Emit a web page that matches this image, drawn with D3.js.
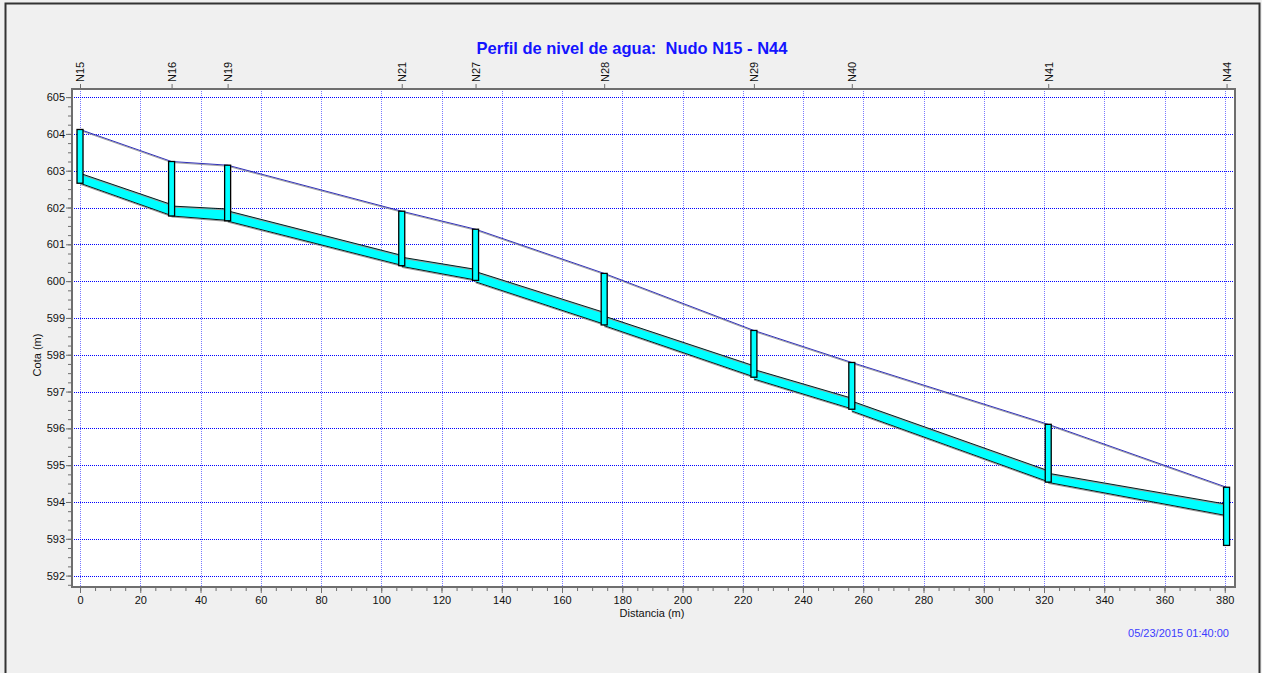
<!DOCTYPE html>
<html>
<head>
<meta charset="utf-8">
<script src="https://cdn.jsdelivr.net/npm/d3@7"></script>
<style>
  html, body { margin: 0; padding: 0; background: #f0f0f0; }
  svg { display: block; font-family: "Liberation Sans", Arial, sans-serif; }
</style>
</head>
<body>
<div id="chart"></div>
<script>
// nodes along the profile
var nodeNames = ["N15", "N16", "N19", "N21", "N27", "N28", "N29", "N40", "N41", "N44"];
var nodeDist = [0, 30.4, 49.0, 106.8, 131.3, 174.0, 223.7, 256.2, 321.4, 380.6];
var nodeInvert = [602.66, 601.77, 601.64, 600.42, 600.02, 598.81, 597.39, 596.52, 594.54, 592.82];
var nodeTop = [604.12, 603.25, 603.15, 601.90, 601.41, 600.21, 598.66, 597.79, 596.11, 594.40];

// conduits between consecutive nodes (upstream / downstream)
var upInvert = [602.66, 601.77, 601.63, 600.40, 599.98, 598.79, 597.34, 596.47, 594.53];
var dnInvert = [601.78, 601.65, 600.43, 600.03, 598.83, 597.40, 596.53, 594.55, 593.63];
var upCrown = [602.93, 602.04, 601.91, 600.65, 600.26, 599.05, 597.60, 596.74, 594.78];
var dnCrown = [602.08, 601.96, 600.70, 600.32, 599.15, 597.70, 596.82, 594.85, 593.94];

var xTicks = d3.range(0, 381, 20);
var yTicks = d3.range(592, 606, 1);

var W = 1262, H = 673;
var pLeft = 72, pRight = 1235, pTop = 89, pBottom = 587;

var svg = d3.select("#chart").append("svg")
  .attr("width", W)
  .attr("height", H);

// window frame
svg.append("rect")
  .attr("x", 5.5).attr("y", 3.5)
  .attr("width", 1254).attr("height", 690)
  .attr("fill", "#f0f0f0")
  .attr("stroke", "#333").attr("stroke-width", 2);

var x = d3.scaleLinear().domain([-2.66, 383.4]).range([pLeft, pRight]);
var y = d3.scaleLinear().domain([591.69, 605.22]).range([pBottom, pTop]);

// plot area
svg.append("rect")
  .attr("x", pLeft).attr("y", pTop)
  .attr("width", pRight - pLeft).attr("height", pBottom - pTop)
  .attr("fill", "#fff");

// grid
svg.append("g").selectAll("line")
  .data(xTicks)
  .enter().append("line")
  .attr("x1", d => Math.round(x(d)) + 0.5).attr("x2", d => Math.round(x(d)) + 0.5)
  .attr("y1", pTop).attr("y2", pBottom)
  .attr("stroke", "#4040ff").attr("stroke-opacity", 0.7)
  .attr("stroke-dasharray", "1,1");

svg.append("g").selectAll("line")
  .data(yTicks)
  .enter().append("line")
  .attr("x1", pLeft).attr("x2", pRight)
  .attr("y1", d => Math.round(y(d)) + 0.5).attr("y2", d => Math.round(y(d)) + 0.5)
  .attr("stroke", "#0000ff")
  .attr("stroke-dasharray", "1,1");

// conduits
var pipes = d3.range(upInvert.length).map(function(i) {
  return {
    x0: nodeDist[i], x1: nodeDist[i + 1],
    b0: upInvert[i], b1: dnInvert[i],
    t0: upCrown[i], t1: dnCrown[i]
  };
});

var gp = svg.append("g");
gp.selectAll("path.fill")
  .data(pipes)
  .enter().append("path")
  .attr("d", p => "M" + x(p.x0) + "," + y(p.b0) + "L" + x(p.x1) + "," + y(p.b1) +
    "L" + x(p.x1) + "," + y(p.t1) + "L" + x(p.x0) + "," + y(p.t0) + "Z")
  .attr("fill", "#00ffff");

// grey shade under edges
gp.selectAll("line.shadeTop")
  .data(pipes)
  .enter().append("line")
  .attr("x1", p => x(p.x0)).attr("y1", p => y(p.t0) + 1)
  .attr("x2", p => x(p.x1)).attr("y2", p => y(p.t1) + 1)
  .attr("stroke", "#9a9a9a").attr("stroke-width", 1);
gp.selectAll("line.shadeBot")
  .data(pipes)
  .enter().append("line")
  .attr("x1", p => x(p.x0)).attr("y1", p => y(p.b0) + 1)
  .attr("x2", p => x(p.x1)).attr("y2", p => y(p.b1) + 1)
  .attr("stroke", "#9a9a9a").attr("stroke-width", 1);

gp.selectAll("line.top")
  .data(pipes)
  .enter().append("line")
  .attr("x1", p => x(p.x0)).attr("y1", p => y(p.t0))
  .attr("x2", p => x(p.x1)).attr("y2", p => y(p.t1))
  .attr("stroke", "#000").attr("stroke-width", 0.9);
gp.selectAll("line.bot")
  .data(pipes)
  .enter().append("line")
  .attr("x1", p => x(p.x0)).attr("y1", p => y(p.b0))
  .attr("x2", p => x(p.x1)).attr("y2", p => y(p.b1))
  .attr("stroke", "#000").attr("stroke-width", 0.9);

// ground line over node tops
var ground = d3.line()
  .x((d, i) => x(nodeDist[i]))
  .y(d => y(d));
svg.append("path")
  .datum(nodeTop)
  .attr("d", ground)
  .attr("transform", "translate(0,1)")
  .attr("fill", "none")
  .attr("stroke", "#a0a0a0").attr("stroke-width", 1);
svg.append("path")
  .datum(nodeTop)
  .attr("d", ground)
  .attr("fill", "none")
  .attr("stroke", "#1a1ab0").attr("stroke-width", 0.9);

// manholes
svg.append("g").selectAll("rect")
  .data(nodeNames)
  .enter().append("rect")
  .attr("x", (d, i) => x(nodeDist[i]) - 3)
  .attr("y", (d, i) => y(nodeTop[i]))
  .attr("width", 6)
  .attr("height", (d, i) => y(nodeInvert[i]) - y(nodeTop[i]))
  .attr("fill", "#00ffff")
  .attr("stroke", "#000").attr("stroke-width", 1.3);

// plot border
svg.append("rect")
  .attr("x", pLeft).attr("y", pTop)
  .attr("width", pRight - pLeft).attr("height", pBottom - pTop)
  .attr("fill", "none")
  .attr("stroke", "#6e6e6e").attr("stroke-width", 2);

// axes
var axisY = svg.append("g")
  .attr("transform", "translate(" + (pLeft - 1) + ",0)")
  .call(d3.axisLeft(y).tickValues(d3.range(591.75, 605.1, 0.25)).tickSize(3).tickFormat(""));
var axisY2 = svg.append("g")
  .attr("transform", "translate(" + (pLeft - 1) + ",0)")
  .call(d3.axisLeft(y).tickValues(yTicks).tickSize(5).tickPadding(1).tickFormat(d3.format("d")));
var axisX = svg.append("g")
  .attr("transform", "translate(0," + (pBottom + 1) + ")")
  .call(d3.axisBottom(x).tickValues(d3.range(0, 381, 5)).tickSize(3).tickFormat(""));
var axisX2 = svg.append("g")
  .attr("transform", "translate(0," + (pBottom + 1) + ")")
  .call(d3.axisBottom(x).tickValues(xTicks).tickSize(5).tickPadding(3).tickFormat(d3.format("d")));

// node axis on top
var axisN = svg.append("g")
  .attr("transform", "translate(0," + (pTop - 1) + ")")
  .call(d3.axisTop(x).tickValues(nodeDist).tickSize(4).tickFormat((d, i) => nodeNames[i]));
axisN.selectAll("text")
  .attr("transform", "rotate(-90)")
  .attr("x", 6).attr("y", 0).attr("dy", "0.35em")
  .style("text-anchor", "start");

[axisY, axisY2, axisX, axisX2, axisN].forEach(function(g) {
  g.select(".domain").remove();
  g.selectAll("line").attr("stroke", "#6e6e6e");
  g.selectAll("text").attr("fill", "#111").attr("font-size", "11px")
    .attr("font-family", "'Liberation Sans', Arial, sans-serif");
});

// titles
svg.append("text")
  .attr("x", 632).attr("y", 54)
  .attr("text-anchor", "middle")
  .attr("font-size", "16.5px").attr("font-weight", "bold")
  .attr("fill", "#1414ff")
  .style("white-space", "pre")
  .text("Perfil de nivel de agua:  Nudo N15 - N44");

svg.append("text")
  .attr("transform", "translate(41,355) rotate(-90)")
  .attr("text-anchor", "middle")
  .attr("font-size", "11px").attr("fill", "#111")
  .text("Cota (m)");

svg.append("text")
  .attr("x", 652).attr("y", 617)
  .attr("text-anchor", "middle")
  .attr("font-size", "11px").attr("fill", "#111")
  .text("Distancia (m)");

svg.append("text")
  .attr("x", 1229).attr("y", 637)
  .attr("text-anchor", "end")
  .attr("font-size", "11px").attr("fill", "#3c3cff")
  .text("05/23/2015 01:40:00");
</script>
</body>
</html>
